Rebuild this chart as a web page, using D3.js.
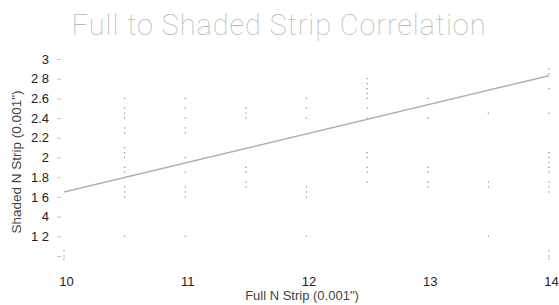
<!DOCTYPE html>
<html><head><meta charset="utf-8">
<script src="https://cdn.jsdelivr.net/npm/d3@7"></script>
<style>html,body{margin:0;padding:0;background:#fff;}svg{display:block;}</style>
</head><body>
<svg id="c" width="559" height="305"></svg>
<script>
const title = "Full to Shaded Strip Correlation";
const xLabel = "Full N Strip (0.001\")";
const yLabel = "Shaded N Strip (0.001\")";
const xTicks = [10, 11, 12, 13, 14];
const yTicks = [1, 1.2, 1.4, 1.6, 1.8, 2, 2.2, 2.4, 2.6, 2.8, 3];
const yTickLabels = ["", "1 2", "4", "1 6", "1.8", "2", "2.2", "2.4", "2.6", "2 8", "3"];
const fullStrip = [10, 10.5, 11, 11.5, 12, 12.5, 13, 13.5, 14];
const shadedStrip = [
  [1.05, 1.0, 0.97],
  [2.6, 2.5, 2.45, 2.4, 2.3, 2.25, 2.1, 2.05, 2.0, 1.9, 1.85, 1.7, 1.65, 1.6, 1.2],
  [2.6, 2.5, 2.4, 2.3, 2.25, 2.0, 1.85, 1.7, 1.65, 1.6, 1.2],
  [2.5, 2.45, 2.4, 1.9, 1.85, 1.75, 1.7],
  [2.6, 2.5, 2.4, 1.7, 1.65, 1.6, 1.2],
  [2.8, 2.75, 2.7, 2.65, 2.6, 2.5, 2.4, 2.05, 2.0, 1.9, 1.85, 1.75],
  [2.6, 2.4, 1.9, 1.85, 1.75, 1.7],
  [2.45, 1.75, 1.7, 1.2],
  [2.9, 2.85, 2.7, 2.45, 2.05, 2.0, 1.95, 1.9, 1.85, 1.75, 1.7, 1.65, 1.05, 1.0, 0.97]
];
const fitX = [10, 14];
const fitY = [1.65, 2.83];

const svg = d3.select("#c");
const x = d3.scaleLinear().domain([10, 14]).range([64, 549]);
const y = d3.scaleLinear().domain([1, 3]).range([256, 59]);
const font = "Liberation Sans, Arial, sans-serif";

// title
svg.append("text").attr("x", 279).attr("y", 35).attr("text-anchor", "middle")
  .attr("font-family", "Roboto, Liberation Sans, sans-serif").attr("font-weight", 100)
  .attr("font-size", 29).attr("letter-spacing", 0.9)
  .attr("fill", "#b8b8b8")
  .text(title);

// y axis (ticks only)
const yAxis = d3.axisLeft(y).tickValues(yTicks).tickSize(4).tickPadding(8)
  .tickFormat((d, i) => yTickLabels[i]);
const gy = svg.append("g").attr("transform", "translate(61,0)").call(yAxis);
gy.select(".domain").remove();
gy.selectAll("line").attr("stroke", "#c4c4c4");
gy.selectAll("text").attr("font-family", font)
  .attr("font-size", 13).attr("fill", "#222");

// x axis (labels only)
const xAxis = d3.axisBottom(x).tickValues(xTicks).tickSize(0).tickPadding(0)
  .tickFormat(d3.format("d"));
const gx = svg.append("g").attr("transform", "translate(2,277)").call(xAxis);
gx.select(".domain").remove();
gx.selectAll("text").attr("font-family", font)
  .attr("font-size", 13).attr("fill", "#222");

// axis titles
svg.append("text").attr("x", 302).attr("y", 300).attr("text-anchor", "middle")
  .attr("font-family", font).attr("font-size", 13)
  .attr("fill", "#444").text(xLabel);
svg.append("text").attr("transform", "translate(21,162) rotate(-90)").attr("text-anchor", "middle")
  .attr("font-family", font).attr("font-size", 13.5)
  .attr("fill", "#444").text(yLabel);

// points
const pts = [];
fullStrip.forEach((fx, i) => shadedStrip[i].forEach(v => pts.push({ fx, v })));
svg.append("g").selectAll("rect").data(pts).join("rect")
  .attr("x", d => x(d.fx) - 0.6).attr("y", d => y(d.v) - 0.6)
  .attr("width", 1.2).attr("height", 1.2).attr("fill", "#888");

// regression line
const fit = fitX.map((fx, i) => ({ fx, v: fitY[i] }));
svg.append("path").datum(fit)
  .attr("d", d3.line().x(d => x(d.fx)).y(d => y(d.v)))
  .attr("fill", "none").attr("stroke", "#b0b0b0").attr("stroke-width", 1.5);
</script>
</body></html>
